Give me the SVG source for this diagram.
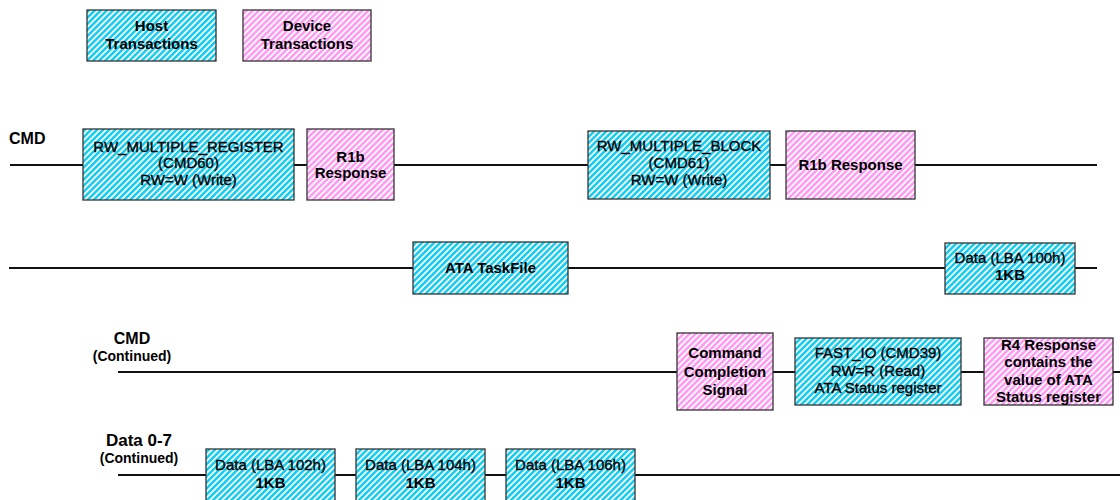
<svg xmlns="http://www.w3.org/2000/svg" width="1120" height="500" viewBox="0 0 1120 500">
<defs>
<pattern id="hostFill" patternUnits="userSpaceOnUse" width="4.3" height="10" patternTransform="rotate(45)">
<rect width="4.3" height="10" fill="#ffffff"/>
<rect width="2.5" height="10" fill="#10CDF2"/>
</pattern>
<pattern id="devFill" patternUnits="userSpaceOnUse" width="4.3" height="10" patternTransform="rotate(45)">
<rect width="4.3" height="10" fill="#ffffff"/>
<rect width="2.5" height="10" fill="#FF99F5"/>
</pattern>
</defs>
<style>
.host{fill:url(#hostFill);stroke:#333;stroke-width:1.3}
.dev{fill:url(#devFill);stroke:#333;stroke-width:1.3}
.wire{stroke:#111;stroke-width:2;fill:none}
text{font-family:"Liberation Sans",Arial,sans-serif;fill:#000;text-anchor:middle}
.b{font-weight:bold;font-size:15px}
.r{font-weight:normal;font-size:15px;stroke:#000;stroke-width:0.35}
.lbl{font-weight:bold;font-size:16px}
.sub{font-weight:bold;font-size:14px}
</style>
<rect width="1120" height="500" fill="#ffffff"/>

<g id="connectors">
<line class="wire" x1="10" y1="165" x2="1097" y2="165"/>
<line class="wire" x1="9" y1="268" x2="1097" y2="268"/>
<line class="wire" x1="118" y1="372" x2="1120" y2="372"/>
<line class="wire" x1="118" y1="475" x2="1120" y2="475"/>
</g>

<g id="labels">
<text class="lbl" x="9" y="144" style="text-anchor:start">CMD</text>
<text class="lbl" x="132" y="344">CMD</text>
<text class="sub" x="132" y="361">(Continued)</text>
<text class="lbl" x="139" y="446" style="font-size:17px">Data 0-7</text>
<text class="sub" x="139" y="463">(Continued)</text>
</g>

<g id="legend-host">
<rect class="host" x="87" y="10" width="129" height="51"/>
<text class="b" x="151.5" y="31">Host</text>
<text class="b" x="151.5" y="49">Transactions</text>
</g>
<g id="legend-device">
<rect class="dev" x="243" y="10" width="128" height="51"/>
<text class="b" x="307" y="31">Device</text>
<text class="b" x="307" y="49">Transactions</text>
</g>

<g id="cmd60">
<rect class="host" x="83" y="129" width="211" height="71"/>
<text class="r" x="188.5" y="152">RW_MULTIPLE_REGISTER</text>
<text class="r" x="188.5" y="168">(CMD60)</text>
<text class="r" x="188.5" y="185">RW=W (Write)</text>
</g>
<g id="r1b-1">
<rect class="dev" x="307" y="129" width="87" height="71"/>
<text class="b" x="350.5" y="162">R1b</text>
<text class="b" x="350.5" y="178">Response</text>
</g>
<g id="cmd61">
<rect class="host" x="588" y="131" width="182" height="68"/>
<text class="r" x="679" y="151">RW_MULTIPLE_BLOCK</text>
<text class="r" x="679" y="168">(CMD61)</text>
<text class="r" x="679" y="185">RW=W (Write)</text>
</g>
<g id="r1b-2">
<rect class="dev" x="786" y="131" width="129" height="68"/>
<text class="b" x="850.5" y="170">R1b Response</text>
</g>

<g id="ata-taskfile">
<rect class="host" x="413" y="242" width="155" height="52"/>
<text class="b" x="490.5" y="273">ATA TaskFile</text>
</g>
<g id="data-100h">
<rect class="host" x="945" y="243" width="130" height="51"/>
<text class="r" x="1010" y="263">Data (LBA 100h)</text>
<text class="b" x="1010" y="280">1KB</text>
</g>

<g id="cmd-completion">
<rect class="dev" x="677" y="333" width="96" height="77"/>
<text class="b" x="725" y="358">Command</text>
<text class="b" x="725" y="377">Completion</text>
<text class="b" x="725" y="395">Signal</text>
</g>
<g id="cmd39">
<rect class="host" x="795" y="338" width="166" height="67"/>
<text class="r" x="878" y="358">FAST_IO (CMD39)</text>
<text class="r" x="878" y="376">RW=R (Read)</text>
<text class="r" x="878" y="393">ATA Status register</text>
</g>
<g id="r4">
<rect class="dev" x="984" y="338" width="129" height="67"/>
<text class="b" x="1048.5" y="350">R4 Response</text>
<text class="b" x="1048.5" y="367">contains the</text>
<text class="b" x="1048.5" y="385">value of ATA</text>
<text class="b" x="1048.5" y="402">Status register</text>
</g>

<g id="data-102h">
<rect class="host" x="206" y="449" width="129" height="62"/>
<text class="r" x="270.5" y="470">Data (LBA 102h)</text>
<text class="b" x="270.5" y="488">1KB</text>
</g>
<g id="data-104h">
<rect class="host" x="356" y="449" width="129" height="62"/>
<text class="r" x="420.5" y="470">Data (LBA 104h)</text>
<text class="b" x="420.5" y="488">1KB</text>
</g>
<g id="data-106h">
<rect class="host" x="506" y="449" width="129" height="62"/>
<text class="r" x="570.5" y="470">Data (LBA 106h)</text>
<text class="b" x="570.5" y="488">1KB</text>
</g>
</svg>
